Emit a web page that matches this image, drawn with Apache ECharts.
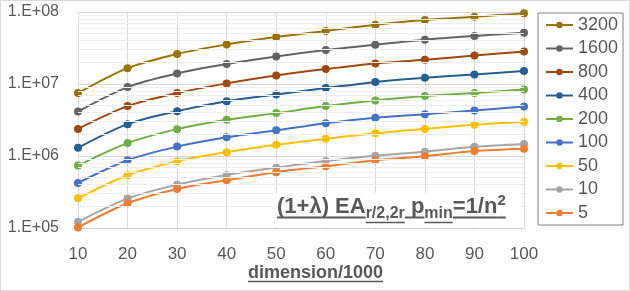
<!DOCTYPE html>
<html><head><meta charset="utf-8">
<script src="https://cdn.jsdelivr.net/npm/echarts@6/dist/echarts.min.js"></script>
<style>html,body{margin:0;padding:0;background:#fff}#c{width:630px;height:291px}</style>
</head><body><div id="c"></div>
<script>
const categories = ['10','20','30','40','50','60','70','80','90','100'];
const s3200 = [7.47e6, 1.66e7, 2.61e7, 3.55e7, 4.49e7, 5.44e7, 6.66e7, 7.74e7, 8.6e7, 9.57e7];
const s1600 = [4.15e6, 9.06e6, 1.40e7, 1.89e7, 2.41e7, 2.96e7, 3.51e7, 4.12e7, 4.64e7, 5.15e7];
const s800  = [2.38e6, 4.93e6, 7.47e6, 1.02e7, 1.31e7, 1.61e7, 1.93e7, 2.17e7, 2.49e7, 2.83e7];
const s400  = [1.30e6, 2.77e6, 4.20e6, 5.78e6, 7.15e6, 8.77e6, 1.07e7, 1.22e7, 1.36e7, 1.51e7];
const s200  = [7.36e5, 1.51e6, 2.36e6, 3.18e6, 3.94e6, 4.93e6, 5.90e6, 6.79e6, 7.47e6, 8.38e6];
const s100  = [4.23e5, 8.74e5, 1.35e6, 1.82e6, 2.28e6, 2.86e6, 3.39e6, 3.81e6, 4.28e6, 4.86e6];
const s50   = [2.59e5, 5.41e5, 8.47e5, 1.13e6, 1.43e6, 1.73e6, 2.07e6, 2.38e6, 2.71e6, 2.98e6];
const s10   = [1.22e5, 2.56e5, 4.00e5, 5.46e5, 6.90e5, 8.55e5, 1.01e6, 1.15e6, 1.34e6, 1.47e6];
const s5    = [1.02e5, 2.21e5, 3.49e5, 4.61e5, 5.96e5, 7.21e5, 8.74e5, 9.94e5, 1.17e6, 1.26e6];
const seriesNames = ['3200','1600','800','400','200','100','50','10','5'];
const seriesData = [s3200, s1600, s800, s400, s200, s100, s50, s10, s5];
const seriesColors = ['#997300','#636363','#9E480E','#255E91','#70AD47','#4472C4','#FFC000','#A5A5A5','#ED7D31'];
const minorGridValues = [2e5,3e5,4e5,5e5,6e5,7e5,8e5,9e5,2e6,3e6,4e6,5e6,6e6,7e6,8e6,9e6,2e7,3e7,4e7,5e7,6e7,7e7,8e7,9e7];

const FONT = '"Liberation Sans", Arial, sans-serif';
const GREY = '#595959';
const chart = echarts.init(document.getElementById('c'));

const mctx = document.createElement('canvas').getContext('2d');
function measure(t, size, bold) { mctx.font = (bold ? 'bold ' : '') + size + 'px ' + FONT; return mctx.measureText(t).width; }

const pieces = [
  {t:'(1+λ) EA', size:22, base:215, ul:217.5, ulw:2},
  {t:'r/2,2r', size:16, base:219.5, ul:222.5, ulw:1.5},
  {t:' p', size:22, base:215, ul:217.5, ulw:2},
  {t:'min', size:16, base:219.5, ul:222.5, ulw:1.5},
  {t:'=1/n', size:22, base:215, ul:217.5, ulw:2},
  {t:'2', size:15, base:206, ul:217.5, ulw:2}
];
const graphics = [
  {type:'rect', shape:{x:0.5,y:0.5,width:629,height:290}, style:{fill:'none', stroke:'#d9d9d9', lineWidth:1}, z:100, silent:true},
  {type:'rect', shape:{x:273,y:193,width:247,height:34}, style:{fill:'#fff'}, z:100, silent:true}
];
let x = 277;
pieces.forEach(p => {
  const w = measure(p.t, p.size, true);
  graphics.push({type:'text', x:x, y:p.base - 0.35*p.size, z:101, silent:true,
    style:{text:p.t, font:'bold ' + p.size + 'px ' + FONT, fill:GREY, verticalAlign:'middle', align:'left'}});
  graphics.push({type:'line', shape:{x1:x, y1:p.ul, x2:x+w, y2:p.ul}, style:{stroke:GREY, lineWidth:p.ulw}, z:101, silent:true});
  x += w;
});
const xt = 'dimension/1000', xts = 18;
const xtw = measure(xt, xts, true);
graphics.push({type:'text', x:315.5, y:273, z:101, silent:true,
  style:{text:xt, font:'bold ' + xts + 'px ' + FONT, fill:GREY, align:'center', verticalAlign:'middle'}});
graphics.push({type:'line', shape:{x1:315.5-xtw/2, y1:281.5, x2:315.5+xtw/2, y2:281.5}, style:{stroke:GREY, lineWidth:1.5}, z:101, silent:true});

const series = seriesNames.map((n, i) => ({
  name:n, type:'line', data:seriesData[i], smooth:0.3, symbol:'circle', symbolSize:8,
  lineStyle:{width:2, color:seriesColors[i]}, itemStyle:{color:seriesColors[i]}, z:3, animation:false
}));
series.push({
  name:'minor', type:'line', data:[], z:1, animation:false, silent:true,
  markLine:{silent:true, symbol:'none', label:{show:false}, animation:false,
    lineStyle:{color:'#eeeeee', type:'solid', width:1},
    data:minorGridValues.map(v => ({yAxis:v}))}
});

chart.setOption({
  animation:false,
  backgroundColor:'#fff',
  grid:{left:78, right:106, top:12, bottom:63},
  legend:{
    data:seriesNames, orient:'vertical', left:538, top:13,
    padding:[3,5,3,7], itemGap:5.5, itemWidth:27, itemHeight:8,
    borderColor:'#808080', borderWidth:1,
    textStyle:{color:GREY, fontSize:18, fontFamily:FONT, lineHeight:18}
  },
  xAxis:{
    type:'category', data:categories, boundaryGap:false,
    axisLine:{show:true, lineStyle:{color:'#d0d0d0', width:1}},
    axisTick:{show:false},
    axisLabel:{color:GREY, fontSize:17, fontFamily:FONT, margin:18, interval:0},
    splitLine:{show:true, lineStyle:{color:'#d9d9d9', width:1}}
  },
  yAxis:{
    type:'log', logBase:10, min:1e5, max:1e8,
    axisLine:{show:false}, axisTick:{show:false},
    axisLabel:{color:GREY, fontSize:16, fontFamily:FONT, margin:19,
      formatter: v => '1.E+0' + Math.round(Math.log10(v))},
    splitLine:{show:true, lineStyle:{color:'#d9d9d9', width:1}}
  },
  series:series,
  graphic:graphics
});
</script></body></html>
